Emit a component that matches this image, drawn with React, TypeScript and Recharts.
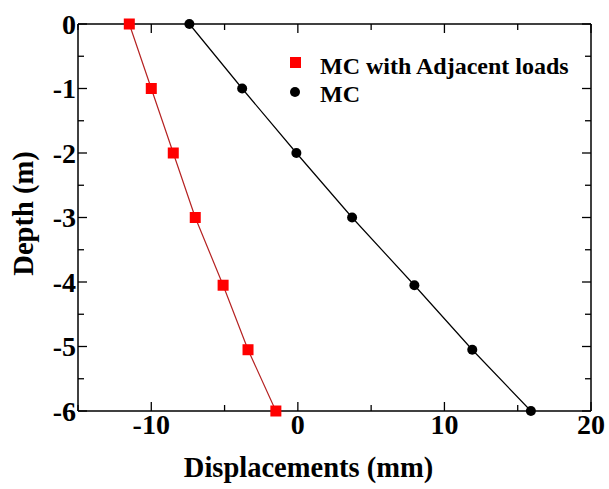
import { LineChart, Line, XAxis, YAxis, ReferenceLine } from "recharts";

const depths = [0, -1, -2, -3, -4.05, -5.05, -6];
const adjacentDisp = [-11.5, -10.0, -8.5, -7.0, -5.1, -3.4, -1.5];
const mcDisp = [-7.4, -3.8, -0.1, 3.7, 7.95, 11.9, 15.9];

const seriesNames = ["MC with Adjacent loads", "MC"];
const xTicks = [-15, -10, -5, 0, 5, 10, 15, 20];
const yTicks = [0, -0.5, -1, -1.5, -2, -2.5, -3, -3.5, -4, -4.5, -5, -5.5, -6];

const adjacentData = depths.map((d, i) => ({ x: adjacentDisp[i], depth: d }));
const mcData = depths.map((d, i) => ({ x: mcDisp[i], depth: d }));

const W = 609;
const H = 489;
const margin = { top: 24, right: 18, bottom: 0, left: 0 };
const plotTop = margin.top;
const plotRight = W - margin.right;

const serif = "'Liberation Serif', 'Times New Roman', serif";
const tickFont = { fontFamily: serif, fontWeight: 700, fontSize: 28, fill: "#000" };
const titleFont = { fontFamily: serif, fontWeight: 700, fontSize: 28.5, fill: "#000" };
const legendFont = { fontFamily: serif, fontWeight: 700, fontSize: 24, fill: "#000" };

// ticks point inward and are mirrored on the top / right frame
const BottomTick = ({ x, y, payload }: any) => {
  const major = payload.value % 10 === 0;
  const len = major ? 9 : 6;
  return (
    <g>
      <line x1={x} x2={x} y1={y} y2={y - len} stroke="#000" strokeWidth={1.3} />
      <line x1={x} x2={x} y1={plotTop} y2={plotTop + len} stroke="#000" strokeWidth={1.3} />
      {major && <text x={x} y={y + 23} textAnchor="middle" style={tickFont}>{payload.value}</text>}
    </g>
  );
};

const LeftTick = ({ x, y, payload }: any) => {
  const major = Number.isInteger(payload.value);
  const len = major ? 9 : 6;
  return (
    <g>
      <line x1={x} x2={x + len} y1={y} y2={y} stroke="#000" strokeWidth={1.3} />
      <line x1={plotRight} x2={plotRight - len} y1={y} y2={y} stroke="#000" strokeWidth={1.3} />
      {major && <text x={x - 2} y={y + 9.5} textAnchor="end" style={tickFont}>{payload.value}</text>}
    </g>
  );
};

const xTitle = (props: any) => {
  const { x, y, width, height } = props.viewBox;
  return (
    <text x={x + width / 2 - 26} y={y + height - 12} textAnchor="middle" style={titleFont}>
      Displacements (mm)
    </text>
  );
};

const yTitle = (props: any) => {
  const { y, height } = props.viewBox;
  const cx = 33;
  const cy = y + height / 2 - 4;
  return (
    <text x={cx} y={cy} textAnchor="middle" transform={`rotate(-90, ${cx}, ${cy})`} style={titleFont}>
      Depth (m)
    </text>
  );
};

const square = (p: any) => (
  <rect key={`sq-${p.index}`} x={p.cx - 5.5} y={p.cy - 5.5} width={11} height={11} fill="#ff0000" />
);

export default function App() {
  return (
    <div style={{ position: "absolute", left: 0, top: 0, width: W, height: H, background: "#fff" }}>
      <LineChart width={W} height={H} margin={margin}>
        <XAxis
          type="number"
          dataKey="x"
          domain={[-15, 20]}
          ticks={xTicks}
          height={78}
          tickSize={0}
          tickMargin={0}
          tickLine={false}
          tick={<BottomTick />}
          axisLine={{ stroke: "#000", strokeWidth: 1.5 }}
          label={xTitle}
        />
        <YAxis
          type="number"
          dataKey="depth"
          domain={[-6, 0]}
          ticks={yTicks}
          width={78}
          tickSize={0}
          tickMargin={0}
          tickLine={false}
          tick={<LeftTick />}
          axisLine={{ stroke: "#000", strokeWidth: 1.5 }}
          label={yTitle}
        />
        <ReferenceLine y={0} stroke="#000" strokeWidth={1.5} />
        <ReferenceLine x={20} stroke="#000" strokeWidth={1.5} />
        <Line
          data={adjacentData}
          dataKey="depth"
          name={seriesNames[0]}
          type="linear"
          stroke="#b52222"
          strokeWidth={1.2}
          dot={square}
          activeDot={false}
          isAnimationActive={false}
        />
        <Line
          data={mcData}
          dataKey="depth"
          name={seriesNames[1]}
          type="linear"
          stroke="#000"
          strokeWidth={1.2}
          dot={{ r: 5, fill: "#000", stroke: "#000", strokeWidth: 0 }}
          activeDot={false}
          isAnimationActive={false}
        />
      </LineChart>
      <svg width={300} height={60} style={{ position: "absolute", left: 285, top: 51 }}>
        <rect x={5} y={6} width={11} height={11} fill="#ff0000" />
        <text x={35} y={23} style={legendFont}>{seriesNames[0]}</text>
        <circle cx={10} cy={41} r={5} fill="#000" />
        <text x={35} y={51} style={legendFont}>{seriesNames[1]}</text>
      </svg>
    </div>
  );
}
